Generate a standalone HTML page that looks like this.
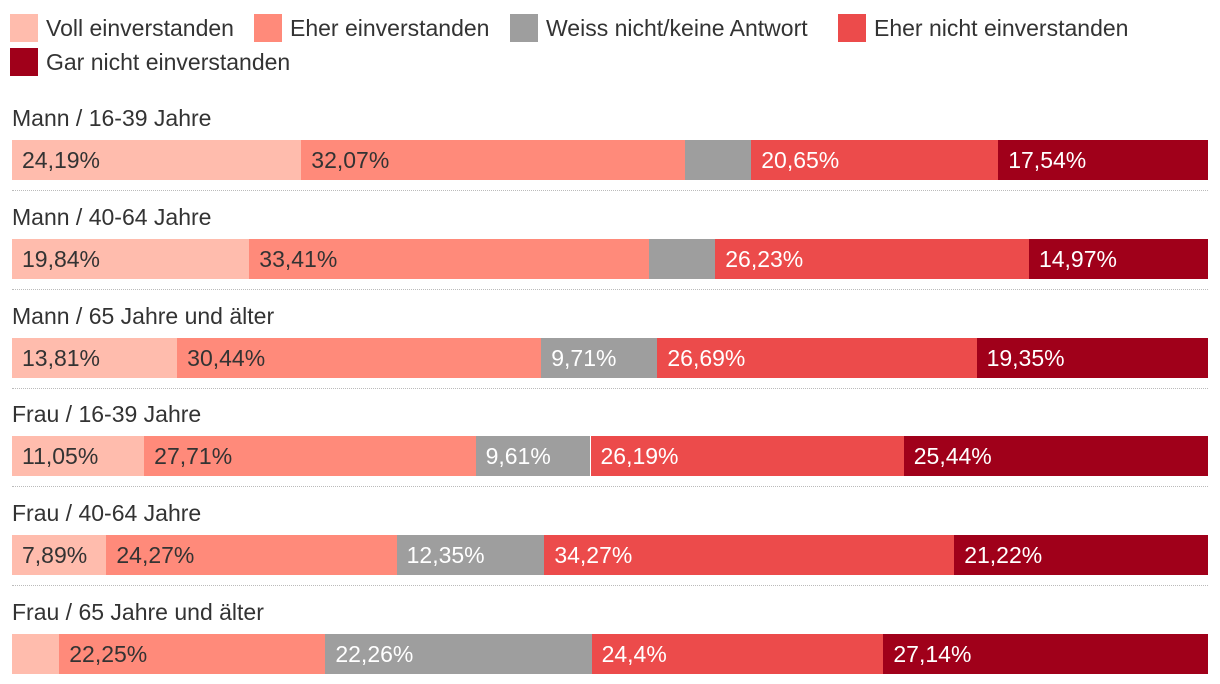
<!DOCTYPE html>
<html><head><meta charset="utf-8"><style>
body{margin:0;width:1220px;height:684px;background:#fff;font-family:"Liberation Sans",sans-serif;overflow:hidden;position:relative}
.leg{position:absolute;display:flex;align-items:center;font-size:23px;color:#333}
.leg i{display:inline-block;width:28px;height:28px;margin-right:8px}
.lab{position:absolute;left:12px;font-size:23px;color:#333}
.seg{position:absolute;height:40px;font-size:23px;line-height:40px;box-sizing:border-box;padding-left:10px;white-space:nowrap;overflow:hidden}
.sep{position:absolute;left:12px;width:1196px;border-top:1px dotted #bbb}
</style></head><body>
<div id="legend"></div>
<div id="chart"></div>
<script>
const categories=["Mann / 16-39 Jahre","Mann / 40-64 Jahre","Mann / 65 Jahre und älter","Frau / 16-39 Jahre","Frau / 40-64 Jahre","Frau / 65 Jahre und älter"];
const seriesNames=["Voll einverstanden","Eher einverstanden","Weiss nicht/keine Antwort","Eher nicht einverstanden","Gar nicht einverstanden"];
const voll=[24.19,19.84,13.81,11.05,7.89,3.95];
const eher=[32.07,33.41,30.44,27.71,24.27,22.25];
const weiss=[5.55,5.55,9.71,9.61,12.35,22.26];
const eherNicht=[20.65,26.23,26.69,26.19,34.27,24.4];
const gar=[17.54,14.97,19.35,25.44,21.22,27.14];
const series=[voll,eher,weiss,eherNicht,gar];
const colors=["#ffbcad","#ff8a7a","#9e9e9e","#ec4b4b","#a0001a"];
const textColors=["#333","#333","#fff","#fff","#fff"];
const legPos=[[10,14],[254,14],[510,14],[838,14],[10,48]];
const L=document.getElementById('legend');
seriesNames.forEach((n,i)=>{const d=document.createElement('div');


d.className='leg';d.style.left=legPos[i][0]+'px';d.style.top=legPos[i][1]+'px';
d.innerHTML='<i style="background:'+colors[i]+'"></i>'+n;L.appendChild(d);});
const C=document.getElementById('chart');
const x0=12,W=1196;
function xs(v){return v/100*W;}
categories.forEach((c,r)=>{
 const top=140+r*98.8;
 const lab=document.createElement('div');
 
 
 lab.className='lab';lab.style.top=(top-35)+'px';lab.textContent=c;C.appendChild(lab);
 let tot=0;series.forEach(s=>tot+=s[r]);
 let acc=0;
 series.forEach((s,i)=>{const v=s[r]/tot*100;
  const d=document.createElement('div');
  
  
  d.className='seg';d.style.left=(x0+xs(acc))+'px';d.style.width=xs(v)+'px';d.style.top=top+'px';
  d.style.background=colors[i];d.style.color=textColors[i];
  if(s[r]>=7)d.textContent=String(s[r]).replace('.',',')+'%';
  C.appendChild(d);acc+=v;});
 if(r<categories.length-1){const sp=document.createElement('div');
  
  
  sp.className='sep';sp.style.top=(top+50)+'px';C.appendChild(sp);}
});
</script>
</body></html>
